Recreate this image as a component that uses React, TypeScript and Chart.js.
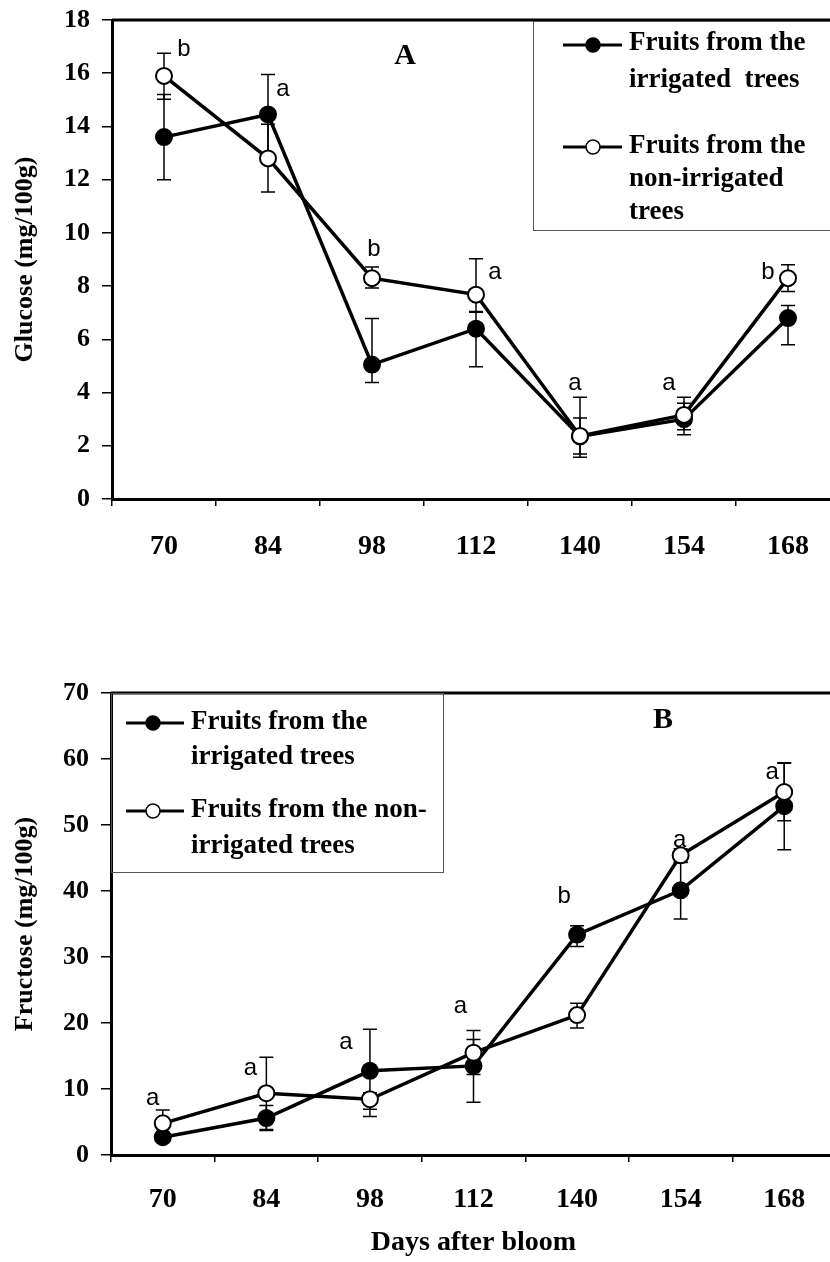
import React, { useEffect, useRef } from 'react';
import { Chart, registerables } from 'chart.js';
Chart.register(...registerables);

// ---------- data ----------
const days = ['70', '84', '98', '112', '140', '154', '168'];

const glucoseIrrigated = [13.6, 14.45, 5.05, 6.4, 2.35, 3.0, 6.8];
const glucoseIrrigatedErrUp = [1.6, 1.5, 1.73, 0.65, 1.47, 0.6, 0.47];
const glucoseIrrigatedErrDown = [1.6, 1.5, 0.67, 1.43, 0.78, 0.59, 1.0];
const glucoseNonIrrigated = [15.9, 12.8, 8.3, 7.68, 2.37, 3.16, 8.3];
const glucoseNonIrrigatedErrUp = [0.85, 1.28, 0.42, 1.35, 0.67, 0.66, 0.5];
const glucoseNonIrrigatedErrDown = [0.88, 1.26, 0.37, 0.66, 0.68, 0.56, 0.5];
const glucoseLetters = ['b', 'a', 'b', 'a', 'a', 'a', 'b'];
const glucoseLetterValues = [16.65, 15.14, 9.15, 8.25, 4.1, 4.1, 8.25];

const fructoseIrrigated = [2.7, 5.6, 12.75, 13.5, 33.4, 40.1, 52.85];
const fructoseIrrigatedErrUp = [0.6, 1.9, 6.3, 4.0, 1.35, 4.35, 6.6];
const fructoseIrrigatedErrDown = [0.6, 1.9, 5.8, 5.5, 1.8, 4.35, 6.6];
const fructoseNonIrrigated = [4.8, 9.36, 8.45, 15.5, 21.2, 45.4, 55.0];
const fructoseNonIrrigatedErrUp = [2.0, 5.45, 1.0, 3.35, 1.8, 1.0, 4.35];
const fructoseNonIrrigatedErrDown = [2.0, 5.5, 2.6, 3.3, 1.95, 1.1, 4.35];
const fructoseLetters = ['a', 'a', 'a', 'a', 'b', 'a', 'a'];
const fructoseLetterValues = [7.6, 12.1, 16.1, 21.5, 38.2, 46.7, 56.9];

const SERIF = '"Liberation Serif", "Times New Roman", serif';
const SANS = '"Liberation Sans", Arial, sans-serif';

// ---------- plugins ----------
const errorBarPlugin = {
  id: 'errorBars',
  beforeDatasetsDraw(chart: any) {
    const { ctx } = chart;
    const ys = chart.scales.y;
    const cap = 7;
    ctx.save();
    ctx.strokeStyle = '#000';
    ctx.lineWidth = 1.5;
    chart.data.datasets.forEach((ds: any, i: number) => {
      const meta = chart.getDatasetMeta(i);
      meta.data.forEach((pt: any, j: number) => {
        const v = ds.data[j];
        const x = pt.x;
        const yTop = ys.getPixelForValue(v + ds.errUp[j]);
        const yBot = ys.getPixelForValue(v - ds.errDown[j]);
        ctx.beginPath();
        ctx.moveTo(x, yTop);
        ctx.lineTo(x, yBot);
        ctx.moveTo(x - cap, yTop);
        ctx.lineTo(x + cap, yTop);
        ctx.moveTo(x - cap, yBot);
        ctx.lineTo(x + cap, yBot);
        ctx.stroke();
      });
    });
    // frame top / right
    const a = chart.chartArea;
    ctx.lineWidth = 3;
    ctx.beginPath();
    ctx.moveTo(a.left, a.top);
    ctx.lineTo(a.right, a.top);
    ctx.lineTo(a.right, a.bottom);
    ctx.stroke();
    ctx.restore();
  },
};

const annotPlugin = {
  id: 'annot',
  afterDraw(chart: any, _args: any, opts: any) {
    const { ctx } = chart;
    const ys = chart.scales.y;
    ctx.save();
    // significance letters
    const meta = chart.getDatasetMeta(0);
    ctx.fillStyle = '#000';
    ctx.font = `24px ${SANS}`;
    ctx.textAlign = 'center';
    ctx.textBaseline = 'alphabetic';
    opts.letters.forEach((t: string, j: number) => {
      const x = meta.data[j].x + opts.letterShift[j];
      const y = ys.getPixelForValue(opts.letterValues[j]);
      ctx.fillText(t, x, y);
    });
    // panel label
    ctx.font = `bold 30px ${SERIF}`;
    ctx.textBaseline = 'middle';
    ctx.fillText(opts.panel.text, opts.panel.x, opts.panel.y);
    // legend
    const L = opts.legend;
    ctx.strokeStyle = '#555';
    ctx.lineWidth = 1;
    ctx.strokeRect(L.box[0] + 0.5, L.box[1] + 0.5, L.box[2] - L.box[0], L.box[3] - L.box[1]);
    L.entries.forEach((e: any) => {
      ctx.strokeStyle = '#000';
      ctx.lineWidth = 3;
      ctx.beginPath();
      ctx.moveTo(L.lineX[0], e.y);
      ctx.lineTo(L.lineX[1], e.y);
      ctx.stroke();
      ctx.beginPath();
      ctx.arc(L.markerX, e.y, 7, 0, Math.PI * 2);
      ctx.fillStyle = e.fill;
      ctx.fill();
      ctx.lineWidth = 1.5;
      ctx.stroke();
      ctx.fillStyle = '#000';
      ctx.font = `bold 27px ${SERIF}`;
      ctx.textAlign = 'left';
      ctx.textBaseline = 'middle';
      e.lines.forEach((ln: any) => ctx.fillText(ln.text, L.textX, ln.y));
    });
    ctx.restore();
  },
};

function makeConfig(p: any): any {
  return {
    type: 'line',
    data: {
      labels: days,
      datasets: [
        {
          label: 'Fruits from the irrigated trees',
          data: p.irr,
          errUp: p.irrUp,
          errDown: p.irrDown,
          borderColor: '#000',
          borderWidth: 3.5,
          pointRadius: 8,
          pointHoverRadius: 8,
          pointBorderWidth: 2,
          pointBackgroundColor: '#000',
          pointBorderColor: '#000',
          tension: 0,
          order: 2,
        },
        {
          label: 'Fruits from the non-irrigated trees',
          data: p.non,
          errUp: p.nonUp,
          errDown: p.nonDown,
          borderColor: '#000',
          borderWidth: 3.5,
          pointRadius: 8,
          pointHoverRadius: 8,
          pointBorderWidth: 2,
          pointBackgroundColor: '#fff',
          pointBorderColor: '#000',
          tension: 0,
          order: 1,
        },
      ],
    },
    options: {
      responsive: false,
      animation: false,
      layout: { autoPadding: false, padding: { top: p.padTop, right: p.padRight, left: 0, bottom: 0 } },
      plugins: {
        legend: { display: false },
        tooltip: { enabled: false },
        annot: p.annot,
      },
      scales: {
        x: {
          type: 'category',
          offset: true,
          grid: { offset: true, drawOnChartArea: false, tickLength: 7, color: '#000', lineWidth: 1.5 },
          border: { display: true, color: '#000', width: 3 },
          ticks: {
            color: '#000',
            font: { family: SERIF, size: 28, weight: 'bold' },
            padding: p.xTickPad,
            maxRotation: 0,
            autoSkip: false,
          },
          title: p.xTitle
            ? {
                display: true,
                text: p.xTitle,
                color: '#000',
                font: { family: SERIF, size: 28, weight: 'bold' },
                padding: { top: 0, bottom: 2 },
              }
            : { display: false },
          afterFit: (s: any) => {
            s.height = p.xHeight;
            s.paddingLeft = 0;
            s.paddingRight = 0;
          },
        },
        y: {
          min: 0,
          max: p.yMax,
          ticks: {
            stepSize: p.yStep,
            color: '#000',
            font: { family: SERIF, size: 26, weight: 'bold' },
            padding: 12,
          },
          grid: { drawOnChartArea: false, tickLength: 10, color: '#000', lineWidth: 1.5 },
          border: { display: true, color: '#000', width: 3 },
          title: {
            display: true,
            text: p.yTitle,
            color: '#000',
            font: { family: SERIF, size: 26, weight: 'bold' },
            padding: { top: 10, bottom: 0 },
          },
          afterFit: (s: any) => {
            s.width = p.yWidth;
            s.paddingTop = 0;
            s.paddingBottom = 0;
          },
        },
      },
    },
    plugins: [errorBarPlugin, annotPlugin],
  };
}

const configA = {
  irr: glucoseIrrigated,
  irrUp: glucoseIrrigatedErrUp,
  irrDown: glucoseIrrigatedErrDown,
  non: glucoseNonIrrigated,
  nonUp: glucoseNonIrrigatedErrUp,
  nonDown: glucoseNonIrrigatedErrDown,
  yMax: 18,
  yStep: 2,
  yTitle: 'Glucose (mg/100g)',
  xTitle: null,
  padTop: 20,
  padRight: 10,
  yWidth: 112,
  xHeight: 121,
  xTickPad: 24,
  annot: {
    letters: glucoseLetters,
    letterValues: glucoseLetterValues,
    letterShift: [20, 15, 2, 19, -5, -15, -20],
    panel: { text: 'A', x: 405, y: 56 },
    legend: {
      box: [533, 21, 838, 230],
      lineX: [563, 622],
      markerX: 593,
      textX: 629,
      entries: [
        {
          y: 45,
          fill: '#000',
          lines: [
            { text: 'Fruits from the', y: 43 },
            { text: 'irrigated  trees', y: 80 },
          ],
        },
        {
          y: 147,
          fill: '#fff',
          lines: [
            { text: 'Fruits from the', y: 146 },
            { text: 'non-irrigated', y: 179 },
            { text: 'trees', y: 212 },
          ],
        },
      ],
    },
  },
};

const B_TOP = 640;
const configB = {
  irr: fructoseIrrigated,
  irrUp: fructoseIrrigatedErrUp,
  irrDown: fructoseIrrigatedErrDown,
  non: fructoseNonIrrigated,
  nonUp: fructoseNonIrrigatedErrUp,
  nonDown: fructoseNonIrrigatedErrDown,
  yMax: 70,
  yStep: 10,
  yTitle: 'Fructose (mg/100g)',
  xTitle: 'Days after bloom',
  padTop: 693 - B_TOP,
  padRight: 14,
  yWidth: 111,
  xHeight: 1262 - 1155,
  xTickPad: 21,
  annot: {
    letters: fructoseLetters,
    letterValues: fructoseLetterValues,
    letterShift: [-10, -16, -24, -13, -13, -1, -12],
    panel: { text: 'B', x: 663, y: 720 - B_TOP },
    legend: {
      box: [111, 693 - B_TOP, 443, 872 - B_TOP],
      lineX: [126, 184],
      markerX: 153,
      textX: 191,
      entries: [
        {
          y: 723 - B_TOP,
          fill: '#000',
          lines: [
            { text: 'Fruits from the', y: 722 - B_TOP },
            { text: 'irrigated trees', y: 757 - B_TOP },
          ],
        },
        {
          y: 811 - B_TOP,
          fill: '#fff',
          lines: [
            { text: 'Fruits from the non-', y: 810 - B_TOP },
            { text: 'irrigated trees', y: 846 - B_TOP },
          ],
        },
      ],
    },
  },
};

function Panel({ cfg, top, height }: { cfg: any; top: number; height: number }) {
  const ref = useRef<HTMLCanvasElement>(null);
  useEffect(() => {
    if (!ref.current) return;
    const chart = new Chart(ref.current, makeConfig(cfg));
    return () => chart.destroy();
  }, [cfg]);
  return (
    <canvas
      ref={ref}
      width={850}
      height={height}
      style={{ position: 'absolute', left: 0, top, width: 850, height }}
    />
  );
}

export default function App() {
  useEffect(() => {
    document.body.style.margin = '0';
    document.body.style.overflow = 'hidden';
    document.body.style.background = '#fff';
  }, []);
  return (
    <div style={{ position: 'relative', width: 830, height: 1262, overflow: 'hidden', background: '#fff' }}>
      <Panel cfg={configA} top={0} height={620} />
      <Panel cfg={configB} top={B_TOP} height={1262 - B_TOP} />
    </div>
  );
}
